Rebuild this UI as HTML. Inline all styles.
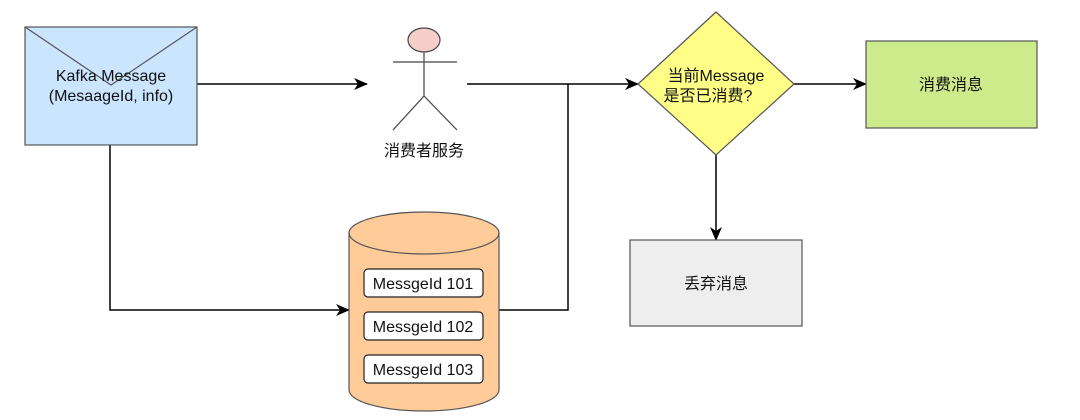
<!DOCTYPE html>
<html><head><meta charset="utf-8"><style>
html,body{margin:0;padding:0;background:#fff;width:1080px;height:420px;overflow:hidden}
text{font-family:"Liberation Sans","Noto Sans CJK SC",sans-serif;fill:#111}
</style></head><body>
<svg width="1080" height="420" viewBox="0 0 1080 420" xmlns="http://www.w3.org/2000/svg">
<defs><marker id="a" markerWidth="14" markerHeight="12" refX="13" refY="6" orient="auto" markerUnits="userSpaceOnUse"><path d="M0,0 L14,6 L0,12 L4,6 Z" fill="#000"/></marker></defs>
<g stroke="#000" stroke-width="1.5" fill="none">
<path d="M197,84 H367" marker-end="url(#a)"/>
<path d="M467,84 H638" marker-end="url(#a)"/>
<path d="M498,310 H568 V84"/>
<path d="M110,145 V310 H349" marker-end="url(#a)"/>
<path d="M794,84 H866" marker-end="url(#a)"/>
<path d="M716,155 V240" marker-end="url(#a)"/>
</g>
<rect x="25" y="27" width="172" height="118" fill="#cce5ff" stroke="#555" stroke-width="1.2"/>
<path d="M25,27 L111,85 L197,27" fill="none" stroke="#555" stroke-width="1.2"/>
<text x="111" y="81" font-size="16" text-anchor="middle">Kafka Message</text>
<text x="111" y="101" font-size="16" text-anchor="middle">(MesaageId, info)</text>
<ellipse cx="424" cy="40" rx="16" ry="12" fill="#f8cecc" stroke="#444" stroke-width="1.2"/>
<g stroke="#444" stroke-width="1.2" fill="none"><path d="M393,62 H457 M424,52 V96 L393,130 M424,96 L457,130"/></g>
<text x="424" y="156" font-size="16" text-anchor="middle">消费者服务</text>
<path d="M349,233 V390 A75,21 0 0 0 499,390 V233 A75,21 0 0 0 349,233 Z" fill="#ffcc99" stroke="#555" stroke-width="1.2"/>
<path d="M349,233 A75,21 0 0 0 499,233" fill="none" stroke="#555" stroke-width="1.2"/>
<g fill="#fff" stroke="#222" stroke-width="1.2">
<rect x="364" y="269" width="119" height="28" rx="4"/>
<rect x="364" y="312" width="119" height="28" rx="4"/>
<rect x="364" y="355" width="119" height="28" rx="4"/>
</g>
<text x="423" y="289" font-size="16" text-anchor="middle">MessgeId 101</text>
<text x="423" y="332" font-size="16" text-anchor="middle">MessgeId 102</text>
<text x="423" y="375" font-size="16" text-anchor="middle">MessgeId 103</text>
<path d="M716,12 L794,84 L716,155 L638,84 Z" fill="#ffff88" stroke="#555" stroke-width="1.2"/>
<text x="716" y="81" font-size="16" text-anchor="middle">当前Message</text>
<text x="708" y="101" font-size="16" text-anchor="middle">是否已消费?</text>
<rect x="866" y="41" width="171" height="87" fill="#cdeb8b" stroke="#555" stroke-width="1.2"/>
<text x="951" y="90" font-size="16" text-anchor="middle">消费消息</text>
<rect x="630" y="240" width="172" height="86" fill="#eeeeee" stroke="#555" stroke-width="1.2"/>
<text x="716" y="289" font-size="16" text-anchor="middle">丢弃消息</text>
</svg>
</body></html>
